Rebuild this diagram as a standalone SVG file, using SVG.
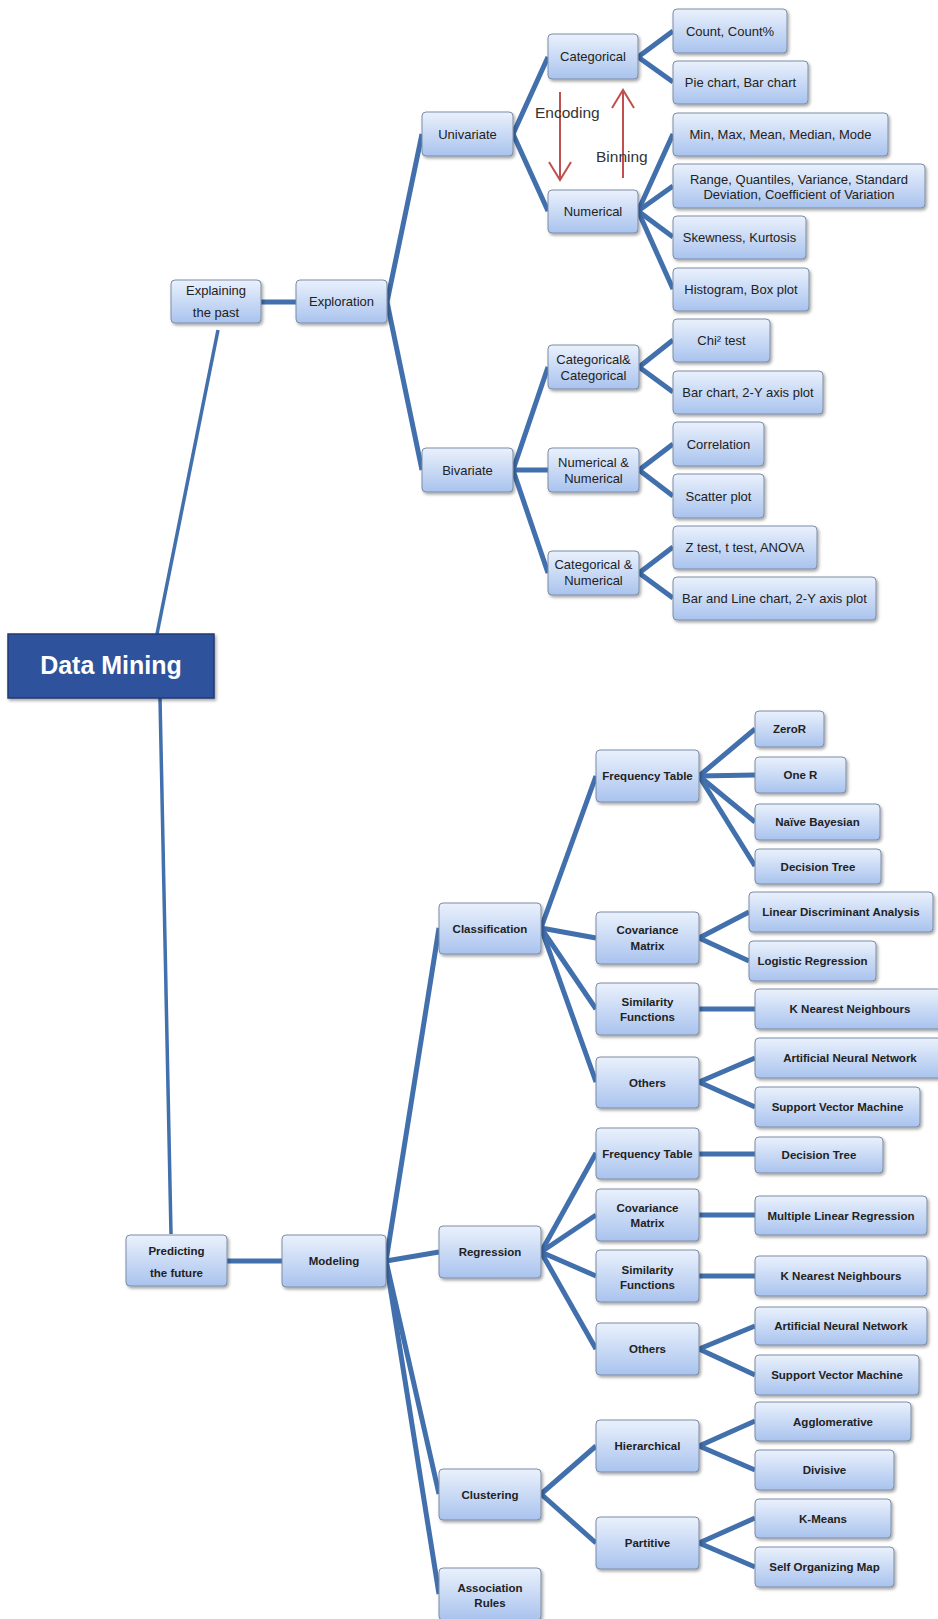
<svg xmlns="http://www.w3.org/2000/svg" width="938" height="1619" viewBox="0 0 938 1619">
  <defs>
    <linearGradient id="boxFill" x1="0" y1="0" x2="0" y2="1">
      <stop offset="0" stop-color="#eaf1fc"/>
      <stop offset="1" stop-color="#a9c3ee"/>
    </linearGradient>
    <filter id="shadow" x="-10%" y="-10%" width="125%" height="140%">
      <feDropShadow dx="1.5" dy="2" stdDeviation="1.5" flood-color="#000" flood-opacity="0.35"/>
    </filter>
    <style>
      .box { fill: url(#boxFill); stroke: #7d8ca5; stroke-width: 1; filter: url(#shadow); }
      .t { font-family: "Liberation Sans", Arial, sans-serif; font-size: 13px; fill: #222; text-anchor: middle; }
      .b { font-family: "Liberation Sans", Arial, sans-serif; font-size: 11.5px; font-weight: bold; fill: #222; text-anchor: middle; }
      .c { stroke: #4170ad; stroke-width: 5; fill: none; stroke-linecap: butt; }
      .trunk { stroke: #4170ad; stroke-width: 3.5; fill: none; }
      .red { stroke: #c0504d; stroke-width: 2; fill: none; }
      .redt { font-family: "Liberation Sans", Arial, sans-serif; font-size: 15.5px; fill: #333; }
    </style>
  </defs>

  <rect width="938" height="1619" fill="#ffffff"/>

  <!-- connectors -->
  <g id="connectors">
    <line class="trunk" x1="157" y1="634" x2="218" y2="330"/>
    <line class="trunk" x1="160" y1="698" x2="171" y2="1234"/>

    <line class="c" x1="261" y1="302" x2="296" y2="302"/>
    <line class="c" x1="387" y1="302" x2="422" y2="134"/>
    <line class="c" x1="387" y1="302" x2="422" y2="470"/>

    <line class="c" x1="513" y1="134" x2="548" y2="57"/>
    <line class="c" x1="513" y1="134" x2="548" y2="211"/>
    <line class="c" x1="638" y1="57" x2="673" y2="31"/>
    <line class="c" x1="638" y1="57" x2="673" y2="82"/>
    <line class="c" x1="638" y1="211" x2="673" y2="134"/>
    <line class="c" x1="638" y1="211" x2="673" y2="186"/>
    <line class="c" x1="638" y1="211" x2="673" y2="237"/>
    <line class="c" x1="638" y1="211" x2="673" y2="289"/>

    <line class="c" x1="513" y1="470" x2="548" y2="367"/>
    <line class="c" x1="513" y1="470" x2="548" y2="470"/>
    <line class="c" x1="513" y1="470" x2="548" y2="573"/>
    <line class="c" x1="639" y1="367" x2="673" y2="340"/>
    <line class="c" x1="639" y1="367" x2="673" y2="392"/>
    <line class="c" x1="639" y1="470" x2="673" y2="444"/>
    <line class="c" x1="639" y1="470" x2="673" y2="496"/>
    <line class="c" x1="639" y1="573" x2="673" y2="547"/>
    <line class="c" x1="639" y1="573" x2="673" y2="598"/>

    <line class="c" x1="227" y1="1261" x2="282" y2="1261"/>
    <line class="c" x1="386" y1="1261" x2="439" y2="928"/>
    <line class="c" x1="386" y1="1261" x2="439" y2="1252"/>
    <line class="c" x1="386" y1="1261" x2="439" y2="1494"/>
    <line class="c" x1="386" y1="1261" x2="439" y2="1594"/>

    <line class="c" x1="541" y1="928" x2="596" y2="776"/>
    <line class="c" x1="541" y1="928" x2="596" y2="938"/>
    <line class="c" x1="541" y1="928" x2="596" y2="1009"/>
    <line class="c" x1="541" y1="928" x2="596" y2="1082"/>
    <line class="c" x1="699" y1="776" x2="755" y2="729"/>
    <line class="c" x1="699" y1="776" x2="755" y2="775"/>
    <line class="c" x1="699" y1="776" x2="755" y2="822"/>
    <line class="c" x1="699" y1="776" x2="755" y2="866"/>
    <line class="c" x1="699" y1="938" x2="749" y2="912"/>
    <line class="c" x1="699" y1="938" x2="749" y2="961"/>
    <line class="c" x1="699" y1="1009" x2="755" y2="1009"/>
    <line class="c" x1="699" y1="1082" x2="755" y2="1058"/>
    <line class="c" x1="699" y1="1082" x2="755" y2="1107"/>

    <line class="c" x1="541" y1="1252" x2="596" y2="1153"/>
    <line class="c" x1="541" y1="1252" x2="596" y2="1215"/>
    <line class="c" x1="541" y1="1252" x2="596" y2="1276"/>
    <line class="c" x1="541" y1="1252" x2="596" y2="1349"/>
    <line class="c" x1="699" y1="1154" x2="755" y2="1154"/>
    <line class="c" x1="699" y1="1215" x2="755" y2="1215"/>
    <line class="c" x1="699" y1="1276" x2="755" y2="1276"/>
    <line class="c" x1="699" y1="1349" x2="755" y2="1326"/>
    <line class="c" x1="699" y1="1349" x2="755" y2="1375"/>

    <line class="c" x1="541" y1="1494" x2="596" y2="1446"/>
    <line class="c" x1="541" y1="1494" x2="596" y2="1543"/>
    <line class="c" x1="699" y1="1446" x2="755" y2="1421"/>
    <line class="c" x1="699" y1="1446" x2="755" y2="1470"/>
    <line class="c" x1="699" y1="1543" x2="755" y2="1518"/>
    <line class="c" x1="699" y1="1543" x2="755" y2="1567"/>
  </g>

  <!-- root -->
  <g id="data-mining">
    <rect x="8" y="634" width="206" height="64" fill="#2e539c" stroke="#1f3b70" stroke-width="1.5" filter="url(#shadow)"/>
    <text x="111" y="674" font-family="'Liberation Sans', Arial, sans-serif" font-size="25" font-weight="bold" fill="#ffffff" text-anchor="middle">Data Mining</text>
  </g>

  <!-- explaining the past -->
  <g id="explaining"><rect class="box" x="171" y="280" width="90" height="43" rx="4"/><text class="t" x="216" y="295">Explaining</text><text class="t" x="216" y="317">the past</text></g>
  <g id="exploration"><rect class="box" x="296" y="280" width="91" height="43" rx="4"/><text class="t" x="341.5" y="306">Exploration</text></g>
  <g id="univariate"><rect class="box" x="422" y="112" width="91" height="44" rx="4"/><text class="t" x="467.5" y="138.5">Univariate</text></g>
  <g id="bivariate"><rect class="box" x="422" y="448" width="91" height="44" rx="4"/><text class="t" x="467.5" y="474.5">Bivariate</text></g>
  <g id="categorical"><rect class="box" x="548" y="34" width="90" height="45" rx="4"/><text class="t" x="593" y="61">Categorical</text></g>
  <g id="numerical"><rect class="box" x="548" y="190" width="90" height="43" rx="4"/><text class="t" x="593" y="216">Numerical</text></g>
  <g id="count"><rect class="box" x="673" y="9" width="114" height="44" rx="4"/><text class="t" x="730" y="35.5">Count, Count%</text></g>
  <g id="pie-bar"><rect class="box" x="673" y="61" width="135" height="43" rx="4"/><text class="t" x="740.5" y="87">Pie chart, Bar chart</text></g>
  <g id="central"><rect class="box" x="673" y="113" width="215" height="43" rx="4"/><text class="t" x="780.5" y="139">Min, Max, Mean, Median, Mode</text></g>
  <g id="spread"><rect class="box" x="673" y="164" width="252" height="44" rx="4"/><text class="t" x="799" y="183.5">Range, Quantiles, Variance, Standard</text><text class="t" x="799" y="198.5">Deviation, Coefficient of Variation</text></g>
  <g id="shape"><rect class="box" x="673" y="216" width="133" height="43" rx="4"/><text class="t" x="739.5" y="242">Skewness, Kurtosis</text></g>
  <g id="histogram"><rect class="box" x="673" y="268" width="136" height="43" rx="4"/><text class="t" x="741" y="294">Histogram, Box plot</text></g>

  <g id="cat-cat"><rect class="box" x="548" y="345" width="91" height="44" rx="4"/><text class="t" x="593.5" y="363.5">Categorical&amp;</text><text class="t" x="593.5" y="379.5">Categorical</text></g>
  <g id="num-num"><rect class="box" x="548" y="448" width="91" height="44" rx="4"/><text class="t" x="593.5" y="466.5">Numerical &amp;</text><text class="t" x="593.5" y="482.5">Numerical</text></g>
  <g id="cat-num"><rect class="box" x="548" y="551" width="91" height="44" rx="4"/><text class="t" x="593.5" y="568.5">Categorical &amp;</text><text class="t" x="593.5" y="584.5">Numerical</text></g>
  <g id="chi"><rect class="box" x="673" y="319" width="97" height="43" rx="4"/><text class="t" x="721.5" y="345">Chi² test</text></g>
  <g id="bar-2y"><rect class="box" x="673" y="371" width="150" height="43" rx="4"/><text class="t" x="748" y="397">Bar chart, 2-Y axis plot</text></g>
  <g id="correlation"><rect class="box" x="673" y="422" width="91" height="44" rx="4"/><text class="t" x="718.5" y="448.5">Correlation</text></g>
  <g id="scatter"><rect class="box" x="673" y="474" width="91" height="44" rx="4"/><text class="t" x="718.5" y="500.5">Scatter plot</text></g>
  <g id="tests"><rect class="box" x="673" y="526" width="144" height="43" rx="4"/><text class="t" x="745" y="552">Z test, t test, ANOVA</text></g>
  <g id="bar-line"><rect class="box" x="673" y="577" width="203" height="43" rx="4"/><text class="t" x="774.5" y="603">Bar and Line chart, 2-Y axis plot</text></g>

  <!-- encoding / binning -->
  <g id="encoding">
    <line class="red" x1="560" y1="92" x2="560" y2="179"/>
    <polyline class="red" points="549,162 560,180 571,162"/>
    <text class="redt" x="535" y="118">Encoding</text>
  </g>
  <g id="binning">
    <line class="red" x1="623" y1="178" x2="623" y2="91"/>
    <polyline class="red" points="612,108 623,90 634,108"/>
    <text class="redt" x="596" y="162">Binning</text>
  </g>

  <!-- predicting the future -->
  <g id="predicting"><rect class="box" x="126" y="1235" width="101" height="51" rx="4"/><text class="b" x="176.5" y="1255">Predicting</text><text class="b" x="176.5" y="1277">the future</text></g>
  <g id="modeling"><rect class="box" x="282" y="1235" width="104" height="52" rx="4"/><text class="b" x="334" y="1265">Modeling</text></g>
  <g id="classification"><rect class="box" x="439" y="903" width="102" height="51" rx="4"/><text class="b" x="490" y="932.5">Classification</text></g>
  <g id="regression"><rect class="box" x="439" y="1226" width="102" height="52" rx="4"/><text class="b" x="490" y="1256">Regression</text></g>
  <g id="clustering"><rect class="box" x="439" y="1469" width="102" height="51" rx="4"/><text class="b" x="490" y="1498.5">Clustering</text></g>
  <g id="association"><rect class="box" x="439" y="1568" width="102" height="52" rx="4"/><text class="b" x="490" y="1592">Association</text><text class="b" x="490" y="1607">Rules</text></g>

  <g id="c-frequency"><rect class="box" x="596" y="750" width="103" height="52" rx="4"/><text class="b" x="647.5" y="780">Frequency Table</text></g>
  <g id="c-zeror"><rect class="box" x="755" y="711" width="69" height="36" rx="4"/><text class="b" x="789.5" y="733">ZeroR</text></g>
  <g id="c-oner"><rect class="box" x="755" y="757" width="91" height="36" rx="4"/><text class="b" x="800.5" y="779">One R</text></g>
  <g id="c-naive"><rect class="box" x="755" y="804" width="125" height="36" rx="4"/><text class="b" x="817.5" y="826">Naïve Bayesian</text></g>
  <g id="c-dtree"><rect class="box" x="755" y="849" width="126" height="35" rx="4"/><text class="b" x="818" y="870.5">Decision Tree</text></g>
  <g id="c-covariance"><rect class="box" x="596" y="912" width="103" height="52" rx="4"/><text class="b" x="647.5" y="934">Covariance</text><text class="b" x="647.5" y="950">Matrix</text></g>
  <g id="c-lda"><rect class="box" x="749" y="892" width="184" height="40" rx="4"/><text class="b" x="841" y="916">Linear Discriminant Analysis</text></g>
  <g id="c-logistic"><rect class="box" x="749" y="941" width="127" height="40" rx="4"/><text class="b" x="812.5" y="965">Logistic Regression</text></g>
  <g id="c-similarity"><rect class="box" x="596" y="983" width="103" height="52" rx="4"/><text class="b" x="647.5" y="1005.5">Similarity</text><text class="b" x="647.5" y="1021">Functions</text></g>
  <g id="c-knn"><rect class="box" x="755" y="989" width="190" height="40" rx="4"/><text class="b" x="850" y="1013">K Nearest Neighbours</text></g>
  <g id="c-others"><rect class="box" x="596" y="1057" width="103" height="51" rx="4"/><text class="b" x="647.5" y="1086.5">Others</text></g>
  <g id="c-ann"><rect class="box" x="755" y="1038" width="190" height="40" rx="4"/><text class="b" x="850" y="1062">Artificial Neural Network</text></g>
  <g id="c-svm"><rect class="box" x="755" y="1087" width="165" height="40" rx="4"/><text class="b" x="837.5" y="1111">Support Vector Machine</text></g>

  <g id="r-frequency"><rect class="box" x="596" y="1128" width="103" height="51" rx="4"/><text class="b" x="647.5" y="1157.5">Frequency Table</text></g>
  <g id="r-dtree"><rect class="box" x="755" y="1137" width="128" height="36" rx="4"/><text class="b" x="819" y="1159">Decision Tree</text></g>
  <g id="r-covariance"><rect class="box" x="596" y="1189" width="103" height="52" rx="4"/><text class="b" x="647.5" y="1212">Covariance</text><text class="b" x="647.5" y="1227">Matrix</text></g>
  <g id="r-mlr"><rect class="box" x="755" y="1196" width="172" height="39" rx="4"/><text class="b" x="841" y="1219.5">Multiple Linear Regression</text></g>
  <g id="r-similarity"><rect class="box" x="596" y="1250" width="103" height="52" rx="4"/><text class="b" x="647.5" y="1274">Similarity</text><text class="b" x="647.5" y="1289">Functions</text></g>
  <g id="r-knn"><rect class="box" x="755" y="1256" width="172" height="40" rx="4"/><text class="b" x="841" y="1280">K Nearest Neighbours</text></g>
  <g id="r-others"><rect class="box" x="596" y="1323" width="103" height="52" rx="4"/><text class="b" x="647.5" y="1353">Others</text></g>
  <g id="r-ann"><rect class="box" x="755" y="1307" width="172" height="38" rx="4"/><text class="b" x="841" y="1330">Artificial Neural Network</text></g>
  <g id="r-svm"><rect class="box" x="755" y="1355" width="164" height="40" rx="4"/><text class="b" x="837" y="1379">Support Vector Machine</text></g>

  <g id="hierarchical"><rect class="box" x="596" y="1420" width="103" height="52" rx="4"/><text class="b" x="647.5" y="1450">Hierarchical</text></g>
  <g id="partitive"><rect class="box" x="596" y="1517" width="103" height="52" rx="4"/><text class="b" x="647.5" y="1547">Partitive</text></g>
  <g id="agglomerative"><rect class="box" x="755" y="1402" width="156" height="39" rx="4"/><text class="b" x="833" y="1425.5">Agglomerative</text></g>
  <g id="divisive"><rect class="box" x="755" y="1450" width="139" height="40" rx="4"/><text class="b" x="824.5" y="1474">Divisive</text></g>
  <g id="kmeans"><rect class="box" x="755" y="1499" width="136" height="39" rx="4"/><text class="b" x="823" y="1522.5">K-Means</text></g>
  <g id="som"><rect class="box" x="755" y="1547" width="139" height="40" rx="4"/><text class="b" x="824.5" y="1571">Self Organizing Map</text></g>
</svg>
